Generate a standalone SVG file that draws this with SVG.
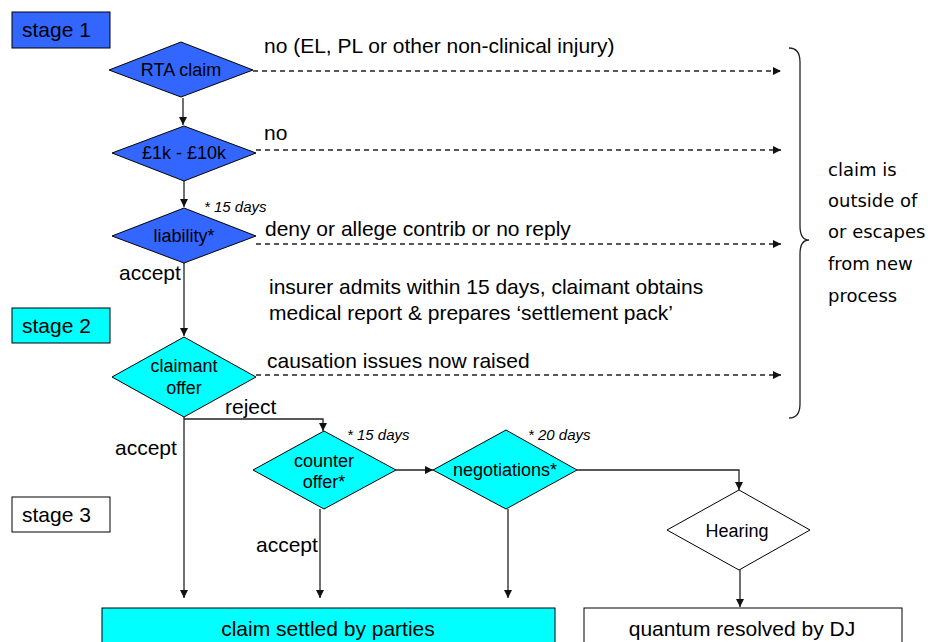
<svg xmlns="http://www.w3.org/2000/svg" width="936" height="642" viewBox="0 0 936 642">
<defs>
<marker id="ah" viewBox="0 0 10 10" refX="10" refY="5" markerWidth="9" markerHeight="8" markerUnits="userSpaceOnUse" orient="auto">
<path d="M0,0 L10,5 L0,10 z" fill="#111"/>
</marker>
</defs>
<style>
text{font-family:"Liberation Sans",Arial,sans-serif;fill:#000}
.lbl{font-size:21px}
.dt{font-size:18px;text-anchor:middle}
.note{font-size:15px;font-style:italic}
.side{font-family:"DejaVu Sans","Liberation Sans",sans-serif;font-size:18px}
.blue{fill:#3366FF;stroke:#000;stroke-width:1}
.cyan{fill:#00FFFF;stroke:#000;stroke-width:1}
.white{fill:#fff;stroke:#000;stroke-width:1}
.c{fill:none;stroke:#222;stroke-width:1.3}
.d{fill:none;stroke:#222;stroke-width:1.3;stroke-dasharray:5,4}
</style>
<rect width="936" height="642" fill="#fff"/>

<g id="stage1"><rect class="blue" x="12" y="12" width="98" height="36"/><text class="lbl" x="22" y="37">stage 1</text></g>
<g id="stage2"><rect class="cyan" x="12" y="308" width="98" height="35"/><text class="lbl" x="22" y="333">stage 2</text></g>
<g id="stage3"><rect class="white" x="12" y="497" width="98" height="35"/><text class="lbl" x="22" y="522">stage 3</text></g>

<g id="connectors">
<line class="c" x1="183" y1="98" x2="183" y2="125" marker-end="url(#ah)"/>
<line class="c" x1="184" y1="181" x2="184" y2="207" marker-end="url(#ah)"/>
<line class="c" x1="184" y1="263" x2="184" y2="336" marker-end="url(#ah)"/>
<line class="c" x1="184" y1="417" x2="184" y2="598" marker-end="url(#ah)"/>
<polyline class="c" points="184,419 323,419 323,431" marker-end="url(#ah)"/>
<line class="c" x1="396" y1="470" x2="433" y2="470" marker-end="url(#ah)"/>
<line class="c" x1="320" y1="509" x2="320" y2="598" marker-end="url(#ah)"/>
<line class="c" x1="508" y1="509" x2="508" y2="598" marker-end="url(#ah)"/>
<polyline class="c" points="577,470 739,470 739,490" marker-end="url(#ah)"/>
<line class="c" x1="740" y1="570" x2="740" y2="607" marker-end="url(#ah)"/>
<line class="d" x1="253" y1="71" x2="781" y2="71" marker-end="url(#ah)"/>
<line class="d" x1="256" y1="150" x2="781" y2="150" marker-end="url(#ah)"/>
<line class="d" x1="256" y1="244" x2="781" y2="244" marker-end="url(#ah)"/>
<line class="d" x1="256" y1="375" x2="781" y2="375" marker-end="url(#ah)"/>
</g>

<g id="rta"><polygon class="blue" points="181,42 253,70 181,97 109,70"/><text class="dt" x="181" y="76">RTA claim</text></g>
<g id="value"><polygon class="blue" points="184,126 256,153 184,181 112,153"/><text class="dt" x="184" y="159">£1k - £10k</text></g>
<g id="liability"><polygon class="blue" points="184,208 256,236 184,263 112,236"/><text class="dt" x="184" y="242">liability*</text><text class="note" x="204" y="212">* 15 days</text></g>
<g id="claimant"><polygon class="cyan" points="184,337 256,377 184,417 112,377"/><text class="dt" x="184" y="372">claimant</text><text class="dt" x="184" y="394">offer</text></g>
<g id="counter"><polygon class="cyan" points="324,431 396,470 324,509 253,470"/><text class="dt" x="324" y="467">counter</text><text class="dt" x="324" y="488">offer*</text><text class="note" x="347" y="440">* 15 days</text></g>
<g id="negotiations"><polygon class="cyan" points="506,430 577,470 506,509 433,470"/><text class="dt" x="505" y="476">negotiations*</text><text class="note" x="528" y="440">* 20 days</text></g>
<g id="hearing"><polygon class="white" points="739,490 810,530 739,570 667,530"/><text class="dt" x="737" y="537">Hearing</text></g>
<g id="settled"><rect class="cyan" x="102" y="608" width="453" height="44"/><text class="lbl" x="328" y="636" text-anchor="middle">claim settled by parties</text></g>
<g id="quantum"><rect class="white" x="584" y="608" width="318" height="44"/><text class="lbl" x="742" y="636" text-anchor="middle">quantum resolved by DJ</text></g>

<g id="labels">
<text class="lbl" x="264" y="53">no (EL, PL or other non-clinical injury)</text>
<text class="lbl" x="264" y="140">no</text>
<text class="lbl" x="265" y="236">deny or allege contrib or no reply</text>
<text class="lbl" x="269" y="294">insurer admits within 15 days, claimant obtains</text>
<text class="lbl" x="269" y="320">medical report &amp; prepares ‘settlement pack’</text>
<text class="lbl" x="267" y="368">causation issues now raised</text>
<text class="lbl" x="119" y="280">accept</text>
<text class="lbl" x="115" y="455">accept</text>
<text class="lbl" x="225" y="414">reject</text>
<text class="lbl" x="256" y="552">accept</text>
</g>

<g id="brace">
<path class="c" d="M789,48 Q800,48 800,62 L800,226 Q800,240 809,240 Q800,240 800,254 L800,404 Q800,418 789,418"/>
<text class="side" x="828" y="176">claim is</text>
<text class="side" x="828" y="207">outside of</text>
<text class="side" x="828" y="238">or escapes</text>
<text class="side" x="828" y="270">from new</text>
<text class="side" x="828" y="302">process</text>
</g>
</svg>
